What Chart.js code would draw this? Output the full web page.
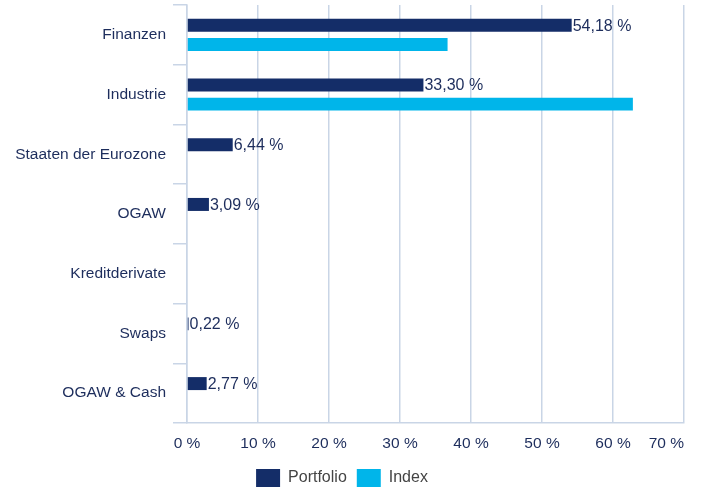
<!DOCTYPE html>
<html>
<head>
<meta charset="utf-8">
<script src="https://cdn.jsdelivr.net/npm/chart.js@4/dist/chart.umd.min.js"></script>
<style>
  html, body { margin: 0; padding: 0; background: #fff; }
  #wrap { width: 703px; height: 492px; }
</style>
</head>
<body>
<div id="wrap"><canvas id="chart"></canvas></div>
<script>
const categories = ['Finanzen', 'Industrie', 'Staaten der Eurozone', 'OGAW', 'Kreditderivate', 'Swaps', 'OGAW & Cash'];
const portfolio = [54.18, 33.30, 6.44, 3.09, null, 0.22, 2.77];
const index = [36.7, 62.8, null, null, null, null, null];
const xTicks = [0, 10, 20, 30, 40, 50, 60, 70];

const navy = '#142d68';
const cyan = '#00b5ea';
const textNavy = '#1d2d5c';
const gridCol = '#c9d5e6';
const font = 'Liberation Sans, Arial, sans-serif';

function pct(v) {
  return v.toFixed(2).replace('.', ',') + ' %';
}

// value labels next to the portfolio bars + x tick labels kept inside the canvas
const labelPlugin = {
  id: 'labels',
  afterDatasetsDraw(chart) {
    const ctx = chart.ctx;
    ctx.save();
    ctx.font = '16px ' + font;
    ctx.fillStyle = textNavy;
    ctx.textAlign = 'left';
    ctx.textBaseline = 'middle';
    chart.getDatasetMeta(0).data.forEach((bar, i) => {
      const v = portfolio[i];
      if (v == null) return;
      ctx.fillText(pct(v), bar.x + 1, bar.y + 1);
    });

    const xs = chart.scales.x;
    ctx.font = '15.5px ' + font;
    ctx.textAlign = 'center';
    xTicks.forEach(t => {
      const s = t + ' %';
      const w = ctx.measureText(s).width;
      let px = xs.getPixelForValue(t);
      if (px + w / 2 > chart.chartArea.right) px = chart.chartArea.right - w / 2;
      ctx.fillText(s, px, chart.chartArea.bottom + 21);
    });
    ctx.restore();
  }
};

new Chart(document.getElementById('chart'), {
  type: 'bar',
  data: {
    labels: categories,
    datasets: [
      { label: 'Portfolio', data: portfolio, backgroundColor: navy, categoryPercentage: 0.64, barPercentage: 0.68 },
      { label: 'Index', data: index, backgroundColor: cyan, categoryPercentage: 0.64, barPercentage: 0.68 }
    ]
  },
  options: {
    indexAxis: 'y',
    responsive: true,
    maintainAspectRatio: false,
    animation: false,
    layout: { padding: { top: 5, right: 19, left: 0, bottom: -5 } },
    scales: {
      x: {
        min: 0,
        max: 70,
        ticks: { display: false, stepSize: 10 },
        grid: { color: gridCol, lineWidth: 1.5, drawTicks: false },
        border: { display: true, color: gridCol, width: 1.5 },
        afterFit(scale) { scale.height = 36; }
      },
      y: {
        ticks: { color: textNavy, font: { family: font, size: 15.5 }, padding: 7 },
        grid: { color: gridCol, lineWidth: 1.5, drawOnChartArea: false, tickLength: 14, offset: true },
        border: { display: true, color: gridCol, width: 1.5 },
        afterFit(scale) {
          scale.width = 187;
          scale.paddingTop = 0;
          scale.paddingBottom = 0;
        }
      }
    },
    plugins: {
      legend: {
        position: 'bottom',
        labels: {
          boxWidth: 24,
          boxHeight: 18,
          padding: 10,
          color: '#444',
          font: { family: font, size: 16 }
        }
      },
      tooltip: { enabled: false }
    }
  },
  plugins: [labelPlugin]
});
</script>
</body>
</html>
